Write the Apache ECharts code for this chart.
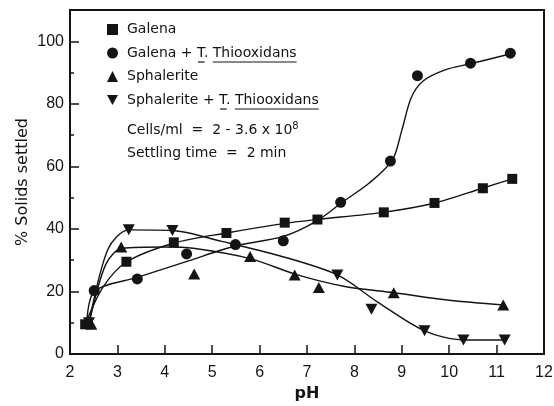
<!DOCTYPE html>
<html>
<head>
<meta charset="utf-8">
<script src="https://cdn.jsdelivr.net/npm/echarts@6/dist/echarts.min.js"></script>
<style>
  html, body { margin: 0; padding: 0; background: #fff; }
  #chart { width: 554px; height: 406px; }
</style>
</head>
<body>
<div id="chart"></div>
<script>
// Measured points (pH, % solids settled)
const galenaPH  = [2.32, 3.19, 4.19, 5.3, 6.53, 7.22, 8.62, 9.69, 10.71, 11.33];
const galenaVal = [9.5, 29.5, 35.7, 38.7, 42.0, 43.0, 45.3, 48.3, 53.0, 56.0];

const galenaTPH  = [2.51, 3.42, 4.46, 5.49, 6.5, 7.71, 8.76, 9.33, 10.45, 11.29];
const galenaTVal = [20.3, 24.0, 32.0, 35.0, 36.2, 48.5, 61.7, 89.0, 93.0, 96.2];

const sphPH  = [2.45, 3.08, 4.62, 5.8, 6.74, 7.25, 8.83, 11.14];
const sphVal = [9.5, 34.2, 25.6, 31.2, 25.3, 21.3, 19.6, 15.7];

const sphTPH  = [2.4, 3.24, 4.16, 7.64, 8.36, 9.48, 10.3, 11.17];
const sphTVal = [10.0, 39.7, 39.5, 25.3, 14.3, 7.4, 4.5, 4.5];

// Hand-fitted trend curves (knots along each drawn curve)
const galenaFitPH  = [2.32, 2.7, 3.2, 4.2, 5.3, 6.5, 7.2, 8.6, 9.7, 10.7, 11.33];
const galenaFitVal = [9.5, 21.5, 29.5, 35.5, 38.7, 41.7, 43.0, 45.3, 48.3, 53.0, 56.0];

const galenaTFitPH  = [2.35, 2.51, 3.42, 4.5, 5.5, 6.5, 7.2, 7.75, 8.3, 8.8, 9.0, 9.2, 9.45, 9.9, 10.45, 11.3];
const galenaTFitVal = [9.5, 20.0, 24.5, 29.8, 34.6, 37.6, 42.5, 48.6, 54.5, 62.0, 71.5, 82.0, 87.3, 90.8, 92.8, 96.0];

const sphFitPH  = [2.4, 2.75, 3.1, 4.0, 4.6, 5.8, 6.8, 7.8, 8.83, 10.0, 11.14];
const sphFitVal = [9.5, 28.5, 33.8, 34.2, 33.8, 30.5, 25.3, 21.6, 19.6, 17.2, 15.7];

const sphTFitPH  = [2.4, 2.8, 3.24, 4.16, 5.2, 6.4, 7.64, 8.5, 9.48, 10.3, 11.17];
const sphTFitVal = [10.0, 33.5, 39.7, 39.5, 36.0, 31.5, 25.3, 16.5, 7.4, 4.5, 4.5];

// Axis ticks
const xTicks = { min: 2, max: 12, step: 1 };
const yTicks = { min: 0, max: 110, step: 20, minorStep: 10, lastLabel: 100 };

// Names
const names = ['Galena', 'Galena + T. Thiooxidans', 'Sphalerite', 'Sphalerite + T. Thiooxidans'];
const noteCells = 'Cells/ml  =  2 - 3.6 x 10';
const noteCellsExp = '8';
const noteTime = 'Settling time  =  2 min';

const zip = (xs, ys) => xs.map((x, i) => [x, ys[i]]);

const INK = '#141414';
const LABEL_FONT = 'DejaVu Sans';
const TICK_FONT = 'Liberation Sans';

// Legend geometry
const legendLeft = 107, legendTop = 21.5, iconSize = 11, textPad = 4, rowPitch = 23.5;
const textStart = legendLeft + iconSize + 5 + textPad;
const rowCenter = i => legendTop + 8 + i * rowPitch;

// Underlines under the species name (T. Thiooxidans)
const ctx = document.createElement('canvas').getContext('2d');
ctx.font = '14px "' + LABEL_FONT + '"';
function underlines(label, row) {
  const y = rowCenter(row) + 9;
  const tIdx = label.indexOf('T.');
  const sIdx = label.indexOf('Thiooxidans');
  const tx = textStart + ctx.measureText(label.slice(0, tIdx)).width;
  const tw = ctx.measureText('T').width;
  const sx = textStart + ctx.measureText(label.slice(0, sIdx)).width;
  const sw = ctx.measureText('Thiooxidans').width;
  const seg = (x1, x2) => ({
    type: 'line', silent: true,
    shape: { x1: x1, y1: y, x2: x2, y2: y },
    style: { stroke: INK, lineWidth: 1.2 }
  });
  return [seg(tx + 1, tx + tw - 1), seg(sx, sx + sw)];
}

const markerStyle = { color: INK, opacity: 1 };
const curveStyle = { color: INK, width: 1.4 };

function curve(name, xs, ys) {
  return {
    name: name, type: 'line', data: zip(xs, ys),
    smooth: 0.3, symbol: 'none', silent: true,
    lineStyle: curveStyle, itemStyle: markerStyle, z: 2
  };
}

const chart = echarts.init(document.getElementById('chart'), null, { renderer: 'canvas' });

chart.setOption({
  animation: false,
  backgroundColor: '#fff',
  grid: {
    left: 70, right: 10, top: 10, bottom: 52,
    show: true, borderColor: INK, borderWidth: 2,
    outerBoundsMode: 'none'
  },
  legend: {
    orient: 'vertical', left: legendLeft, top: legendTop, padding: 0,
    itemGap: rowPitch - 16, itemWidth: iconSize, itemHeight: iconSize,
    selectedMode: false,
    itemStyle: { opacity: 1 },
    textStyle: { fontFamily: LABEL_FONT, fontSize: 14, color: INK, lineHeight: 16, padding: [0, 0, 0, textPad] },
    data: [
      { name: names[0], icon: 'rect' },
      { name: names[1], icon: 'circle' },
      { name: names[2], icon: 'triangle' },
      { name: names[3], icon: 'path://M0,0L12,0L6,11Z' }
    ]
  },
  xAxis: {
    type: 'value', min: xTicks.min, max: xTicks.max, interval: xTicks.step,
    name: 'pH', nameLocation: 'middle', nameGap: 32, nameMoveOverlap: false,
    nameTextStyle: { fontFamily: LABEL_FONT, fontWeight: 'bold', fontSize: 16, color: INK },
    axisLine: { show: true, onZero: false, lineStyle: { color: INK, width: 2 } },
    axisTick: { show: true, inside: true, length: 9, lineStyle: { color: INK, width: 1.5 } },
    axisLabel: { fontFamily: TICK_FONT, fontSize: 16, color: INK, margin: 11 },
    splitLine: { show: false }
  },
  yAxis: [
    {
      type: 'value', position: 'left', min: yTicks.min, max: yTicks.max, interval: yTicks.step,
      name: '% Solids settled', nameLocation: 'middle', nameGap: 39, nameRotate: 90, nameMoveOverlap: false,
      nameTextStyle: { fontFamily: LABEL_FONT, fontSize: 16, color: INK },
      axisLine: { show: true, onZero: false, lineStyle: { color: INK, width: 2 } },
      axisTick: { show: true, inside: true, length: 9, lineStyle: { color: INK, width: 1.5 } },
      axisLabel: {
        fontFamily: TICK_FONT, fontSize: 16, color: INK, margin: 6,
        formatter: v => (v > yTicks.lastLabel ? '' : String(v))
      },
      splitLine: { show: false }
    },
    {
      type: 'value', position: 'left', min: yTicks.min, max: yTicks.max, interval: yTicks.minorStep,
      axisLine: { show: false },
      axisTick: { show: true, inside: true, length: 4, lineStyle: { color: INK, width: 1.5 } },
      axisLabel: { show: false },
      splitLine: { show: false }
    }
  ],
  series: [
    { name: names[0], type: 'scatter', data: zip(galenaPH, galenaVal), symbol: 'rect', symbolSize: 10, itemStyle: markerStyle, z: 4 },
    { name: names[1], type: 'scatter', data: zip(galenaTPH, galenaTVal), symbol: 'circle', symbolSize: 11, itemStyle: markerStyle, z: 4 },
    { name: names[2], type: 'scatter', data: zip(sphPH, sphVal), symbol: 'triangle', symbolSize: [12, 11], itemStyle: markerStyle, z: 4 },
    { name: names[3], type: 'scatter', data: zip(sphTPH, sphTVal), symbol: 'triangle', symbolRotate: 180, symbolSize: [12, 11], itemStyle: markerStyle, z: 4 },
    curve(names[0], galenaFitPH, galenaFitVal),
    curve(names[1], galenaTFitPH, galenaTFitVal),
    curve(names[2], sphFitPH, sphFitVal),
    curve(names[3], sphTFitPH, sphTFitVal)
  ],
  graphic: [
    ...underlines(names[1], 1),
    ...underlines(names[3], 3),
    {
      type: 'text', x: textStart, y: 130, silent: true,
      style: {
        text: '{b|' + noteCells + '}{s|' + noteCellsExp + '}',
        verticalAlign: 'middle',
        rich: {
          b: { fontFamily: LABEL_FONT, fontSize: 14, fill: INK, lineHeight: 18 },
          s: { fontFamily: LABEL_FONT, fontSize: 10, fill: INK, verticalAlign: 'top', lineHeight: 18 }
        }
      }
    },
    {
      type: 'text', x: textStart, y: 153, silent: true,
      style: { text: noteTime, font: '14px "' + LABEL_FONT + '"', fill: INK, verticalAlign: 'middle' }
    }
  ]
});
</script>
</body>
</html>
